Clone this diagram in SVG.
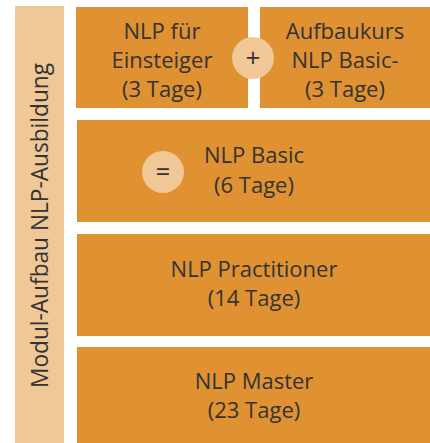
<svg xmlns="http://www.w3.org/2000/svg" width="430" height="443" viewBox="0 0 430 443">
<style>
.box{fill:#E09132}
.bar{fill:#F0C898}
.circ{fill:#F0C898}
.t{font-family:"Open Sans","Liberation Sans",sans-serif;font-size:22px;fill:#333333;text-anchor:middle}
.op{font-family:"Open Sans","Liberation Sans",sans-serif;font-size:26px;fill:#333333;text-anchor:middle}
</style>
<rect width="430" height="443" fill="#ffffff"/>
<g id="side">
<rect class="bar" x="15" y="6" width="49" height="437"/>
<text class="t" style="font-size:24px" transform="translate(48,225.5) rotate(-90)" x="0" y="0" textLength="325" lengthAdjust="spacingAndGlyphs">Modul-Aufbau NLP-Ausbildung</text>
</g>
<g id="einsteiger">
<rect class="box" x="76" y="7" width="172" height="101"/>
<text class="t" x="162" y="39">NLP für</text>
<text class="t" x="162" y="68">Einsteiger</text>
<text class="t" x="162" y="97">(3 Tage)</text>
</g>
<g id="aufbaukurs">
<rect class="box" x="260" y="7" width="170" height="101"/>
<text class="t" x="345" y="39">Aufbaukurs</text>
<text class="t" x="345" y="68">NLP Basic-</text>
<text class="t" x="345" y="97">(3 Tage)</text>
</g>
<g id="basic">
<rect class="box" x="77" y="120" width="353" height="102"/>
<text class="t" x="254" y="163">NLP Basic</text>
<text class="t" x="254" y="193">(6 Tage)</text>
</g>
<g id="practitioner">
<rect class="box" x="77" y="234" width="353" height="102"/>
<text class="t" x="254" y="277">NLP Practitioner</text>
<text class="t" x="254" y="306">(14 Tage)</text>
</g>
<g id="master">
<rect class="box" x="77" y="347" width="353" height="96"/>
<text class="t" x="254" y="389">NLP Master</text>
<text class="t" x="254" y="418">(23 Tage)</text>
</g>
<g id="plus">
<circle class="circ" cx="253" cy="58" r="21"/>
<text class="op" x="253" y="67">+</text>
</g>
<g id="equals">
<circle class="circ" cx="163" cy="172" r="21"/>
<text class="op" x="163" y="181">=</text>
</g>
<g id="connectors"></g>
</svg>
